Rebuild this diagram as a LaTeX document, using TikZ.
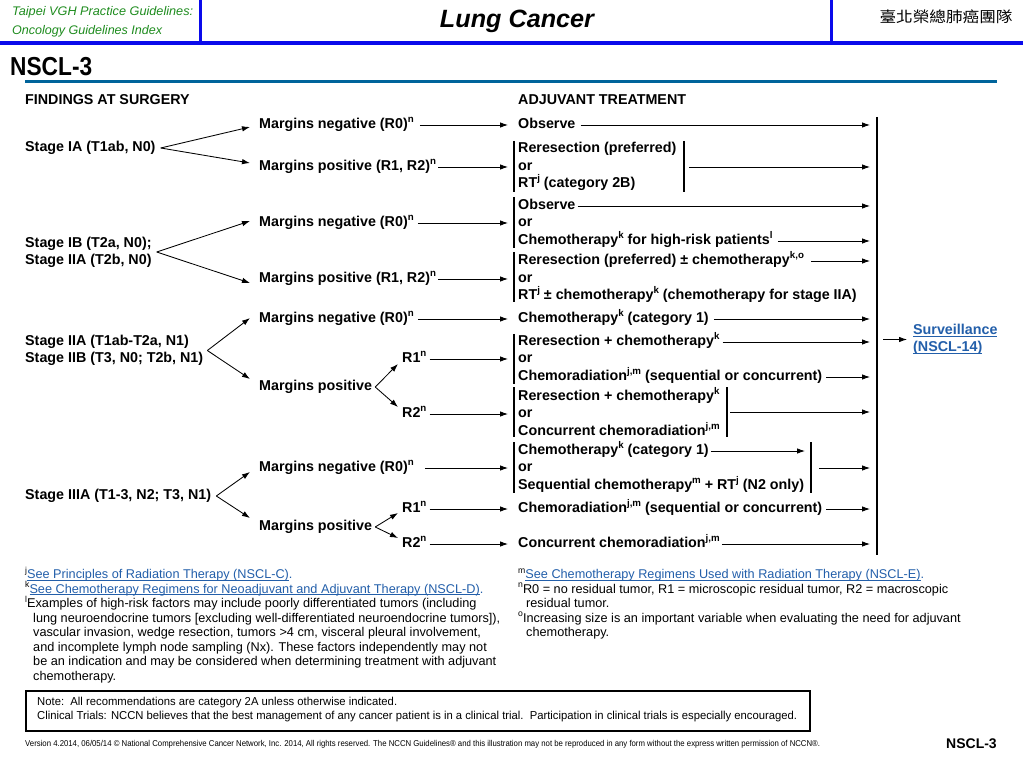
\documentclass[tikz,border=0pt]{standalone}
\usepackage{fontspec}
\usepackage{graphicx}
\setmainfont{Liberation Sans}
\newfontfamily\cjk{Noto Sans CJK TC}
\usetikzlibrary{arrows.meta}
\definecolor{hdrblue}{RGB}{10,10,235}
\definecolor{hdrgreen}{RGB}{30,140,30}
\definecolor{rulecol}{RGB}{0,100,155}
\definecolor{linkblue}{RGB}{35,95,170}
\newcommand{\fitw}[2]{\resizebox{#1}{\height}{#2}}
\newcommand{\sps}[1]{\raisebox{0.42em}{\scalebox{0.68}{#1}}}
\newcommand{\lk}[1]{\setbox0=\hbox{#1}\leavevmode\rlap{\rule[-1.7pt]{\wd0}{0.7pt}}\box0}
\tikzset{
  bt/.style={anchor=west, inner sep=0pt, font=\bfseries\fontsize{14.3}{17}\selectfont, text height=10pt, text depth=3pt},
  bt2/.style={anchor=west, inner sep=0pt, font=\bfseries\fontsize{14.3}{17}\selectfont, align=left},
  arr/.style={-{Latex[length=8pt,width=5.5pt]}, line width=0.85pt},
  bar/.style={line width=1.1pt},
  fn/.style={anchor=base west, inner sep=0pt, font=\fontsize{12.7}{15}\selectfont},
}
\begin{document}
\begin{tikzpicture}[x=1pt,y=-1pt]
\useasboundingbox (0,0) rectangle (1023,767);
\fill[white] (0,0) rectangle (1023,767);
% header
\draw[hdrblue, line width=3.5pt] (0,43) -- (1023,43);
\draw[hdrblue, line width=3pt] (200,0) -- (200,43);
\draw[hdrblue, line width=3pt] (831,0) -- (831,43);
\node[anchor=west, inner sep=0pt, font=\itshape\fontsize{12.5}{14}\selectfont, text=hdrgreen] (hg1) at (12,12) {\fitw{181pt}{Taipei VGH Practice Guidelines:}};
\node[anchor=west, inner sep=0pt, font=\itshape\fontsize{12.5}{14}\selectfont, text=hdrgreen] (hg2) at (12,31) {\fitw{150pt}{Oncology Guidelines Index}};
\node[inner sep=0pt, font=\bfseries\itshape\fontsize{25}{28}\selectfont] (title) at (517,21) {\fitw{154pt}{Lung Cancer}};
\node[inner sep=0pt, font=\cjk\fontsize{15}{17}\selectfont] (team) at (946,17) {\fitw{133pt}{臺北榮總肺癌團隊}};
\node[anchor=west, inner sep=0pt, font=\bfseries\fontsize{26}{28}\selectfont] (pg) at (10,67) {\fitw{82pt}{NSCL-3}};
\draw[rulecol, line width=3pt] (25,82) -- (997,82);
% column heads
\node[bt] (hdl) at (25,101) {FINDINGS AT SURGERY};
\node[bt] (hdr) at (518,101) {ADJUVANT TREATMENT};
% stages
\node[bt] (st1) at (25,148) {Stage IA (T1ab, N0)};
\node[bt2] (st2) at (25,252) {Stage IB (T2a, N0);\\Stage IIA (T2b, N0)};
\node[bt2] (st3) at (25,350.5) {Stage IIA (T1ab-T2a, N1)\\Stage IIB (T3, N0; T2b, N1)};
\node[bt] (st4) at (25,496) {Stage IIIA (T1-3, N2; T3, N1)};
% margins
\node[bt] (mn1) at (259,125) {Margins negative (R0)\sps{n}};
\node[bt] (mp1) at (259,167) {Margins positive (R1, R2)\sps{n}};
\node[bt] (mn2) at (259,223) {Margins negative (R0)\sps{n}};
\node[bt] (mp2) at (259,279) {Margins positive (R1, R2)\sps{n}};
\node[bt] (mn3) at (259,319) {Margins negative (R0)\sps{n}};
\node[bt] (mp3) at (259,387) {Margins positive};
\node[bt] (r1a) at (402,359) {R1\sps{n}};
\node[bt] (r2a) at (402,414) {R2\sps{n}};
\node[bt] (mn4) at (259,468) {Margins negative (R0)\sps{n}};
\node[bt] (mp4) at (259,527) {Margins positive};
\node[bt] (r1b) at (402,509) {R1\sps{n}};
\node[bt] (r2b) at (402,544) {R2\sps{n}};
% adjuvant
\node[bt] (a1) at (518,125) {Observe};
\node[bt] (a2a) at (518,149) {Reresection (preferred)};
\node[bt] (a2b) at (518,167) {or};
\node[bt] (a2c) at (518,184) {RT\sps{j} (category 2B)};
\node[bt] (a3a) at (518,206) {Observe};
\node[bt] (a3b) at (518,223) {or};
\node[bt] (a3c) at (518,241) {Chemotherapy\sps{k} for high-risk patients\sps{l}};
\node[bt] (a4a) at (518,261) {Reresection (preferred) ± chemotherapy\sps{k,o}};
\node[bt] (a4b) at (518,279) {or};
\node[bt] (a4c) at (518,296) {RT\sps{j} ± chemotherapy\sps{k} (chemotherapy for stage IIA)};
\node[bt] (a5) at (518,319) {Chemotherapy\sps{k} (category 1)};
\node[bt] (a6a) at (518,342) {Reresection + chemotherapy\sps{k}};
\node[bt] (a6b) at (518,359) {or};
\node[bt] (a6c) at (518,377) {Chemoradiation\sps{j,m} (sequential or concurrent)};
\node[bt] (a7a) at (518,397) {Reresection + chemotherapy\sps{k}};
\node[bt] (a7b) at (518,414) {or};
\node[bt] (a7c) at (518,432) {Concurrent chemoradiation\sps{j,m}};
\node[bt] (a8a) at (518,451) {Chemotherapy\sps{k} (category 1)};
\node[bt] (a8b) at (518,468) {or};
\node[bt] (a8c) at (518,486) {Sequential chemotherapy\sps{m} + RT\sps{j} (N2 only)};
\node[bt] (a9) at (518,509) {Chemoradiation\sps{j,m} (sequential or concurrent)};
\node[bt] (a10) at (518,544) {Concurrent chemoradiation\sps{j,m}};
% group bars
\draw[bar] (514,141) -- (514,192);
\draw[bar] (684,141) -- (684,192);
\draw[bar] (514,197) -- (514,248);
\draw[bar] (514,252) -- (514,302);
\draw[bar] (514,334) -- (514,384);
\draw[bar] (514,387) -- (514,437);
\draw[bar] (727,387) -- (727,437);
\draw[bar] (514,442) -- (514,493);
\draw[bar] (811,442) -- (811,493);
\coordinate (bbt) at (877,117);
\coordinate (bbb) at (877,555);
\draw[bar] (bbt) -- (bbb);
% stage -> margins
\draw[arr] ([xshift=5pt]st1.east) -- ([xshift=-9pt,yshift=-2pt]mn1.west);
\draw[arr] ([xshift=5pt]st1.east) -- ([xshift=-9pt,yshift=4pt]mp1.west);
\draw[arr] ([xshift=5pt]st2.east) -- ([xshift=-9pt,yshift=2pt]mn2.west);
\draw[arr] ([xshift=5pt]st2.east) -- ([xshift=-9pt,yshift=-4pt]mp2.west);
\draw[arr] ([xshift=4pt]st3.east) -- ([xshift=-9pt,yshift=1pt]mn3.west);
\draw[arr] ([xshift=4pt]st3.east) -- ([xshift=-9pt,yshift=8pt]mp3.west);
\draw[arr] ([xshift=5pt]st4.east) -- ([xshift=-9pt,yshift=-4pt]mn4.west);
\draw[arr] ([xshift=5pt]st4.east) -- ([xshift=-9pt,yshift=9pt]mp4.west);
\draw[arr] ([xshift=3pt]mp3.east) -- ([xshift=-4pt,yshift=-5pt]r1a.west);
\draw[arr] ([xshift=3pt]mp3.east) -- ([xshift=-4pt,yshift=7pt]r2a.west);
\draw[arr] ([xshift=3pt]mp4.east) -- ([xshift=-4pt,yshift=-4pt]r1b.west);
\draw[arr] ([xshift=3pt]mp4.east) -- ([xshift=-4pt,yshift=6pt]r2b.west);
% margins -> adjuvant
\draw[arr] ([xshift=6pt]mn1.east) -- ([xshift=-10pt]a1.west);
\draw[arr] ([xshift=2pt]mp1.east) -- ([xshift=-10pt]a2b.west);
\draw[arr] ([xshift=4pt]mn2.east) -- ([xshift=-10pt]a3b.west);
\draw[arr] ([xshift=2pt]mp2.east) -- ([xshift=-10pt]a4b.west);
\draw[arr] ([xshift=4pt]mn3.east) -- ([xshift=-10pt]a5.west);
\draw[arr] ([xshift=3pt]r1a.east) -- ([xshift=-10pt]a6b.west);
\draw[arr] ([xshift=3pt]r2a.east) -- ([xshift=-10pt]a7b.west);
\draw[arr] ([xshift=11pt]mn4.east) -- ([xshift=-10pt]a8b.west);
\draw[arr] ([xshift=3pt]r1b.east) -- ([xshift=-10pt]a9.west);
\draw[arr] ([xshift=3pt]r2b.east) -- ([xshift=-10pt]a10.west);
% adjuvant -> bar
\coordinate (tipx) at (870,0);
\coordinate (t8) at (805,0);
\coordinate (g2m) at (684,167);
\coordinate (g7m) at (727,412);
\coordinate (g8m) at (811,468);
\draw[arr] ([xshift=5pt]a1.east) -- (a1.east -| tipx);
\draw[arr] ([xshift=5pt]g2m) -- (g2m -| tipx);
\draw[arr] ([xshift=2pt]a3a.east) -- (a3a.east -| tipx);
\draw[arr] ([xshift=5pt]a3c.east) -- (a3c.east -| tipx);
\draw[arr] ([xshift=7pt]a4a.east) -- (a4a.east -| tipx);
\draw[arr] ([xshift=5pt]a5.east) -- (a5.east -| tipx);
\draw[arr] ([xshift=3pt]a6a.east) -- (a6a.east -| tipx);
\draw[arr] ([xshift=4pt]a6c.east) -- (a6c.east -| tipx);
\draw[arr] ([xshift=3pt]g7m) -- (g7m -| tipx);
\draw[arr] ([xshift=2pt]a8a.east) -- (a8a.east -| t8);
\draw[arr] ([xshift=8pt]g8m) -- (g8m -| tipx);
\draw[arr] ([xshift=4pt]a9.east) -- (a9.east -| tipx);
\draw[arr] ([xshift=2pt]a10.east) -- (a10.east -| tipx);
% surveillance
\node[bt2, text=linkblue] (surv) at (913,339.5) {\lk{Surveillance}\\\lk{(NSCL-14)}};
\coordinate (bbm) at (883,339.5);
\draw[arr] (bbm) -- ([xshift=-6pt]surv.west);
% footnotes
\node[fn] (f1) at (25,578.5) {\sps{j}{\color{linkblue}\lk{See Principles of Radiation Therapy (NSCL-C)}.}};
\node[fn] (f2) at (25,593) {\sps{k}{\color{linkblue}\lk{See Chemotherapy Regimens for Neoadjuvant and Adjuvant Therapy (NSCL-D)}.}};
\node[fn] (f3) at (25,607.5) {\sps{l}Examples of high-risk factors may include poorly differentiated tumors (including};
\node[fn] (f4) at (33,622) {lung neuroendocrine tumors [excluding well-differentiated neuroendocrine tumors]),};
\node[fn] (f5) at (33,636.5) {vascular invasion, wedge resection, tumors >4 cm, visceral pleural involvement,};
\node[fn] (f6) at (33,651) {and incomplete lymph node sampling (Nx). These factors independently may not};
\node[fn] (f7) at (33,665.5) {be an indication and may be considered when determining treatment with adjuvant};
\node[fn] (f8) at (33,680) {chemotherapy.};
\node[fn] (f9) at (518,578.5) {\sps{m}{\color{linkblue}\lk{See Chemotherapy Regimens Used with Radiation Therapy (NSCL-E)}.}};
\node[fn] (f10) at (518,593) {\sps{n}R0 = no residual tumor, R1 = microscopic residual tumor, R2 = macroscopic};
\node[fn] (f11) at (526,607.5) {residual tumor.};
\node[fn] (f12) at (518,622) {\sps{o}Increasing size is an important variable when evaluating the need for adjuvant};
\node[fn] (f13) at (526,636.5) {chemotherapy.};
% note box
\node[draw, line width=1.5pt, anchor=north west, minimum width=784pt, minimum height=40pt, inner sep=0pt] (nb) at (25,690) {};
\node[anchor=west, inner sep=0pt, font=\fontsize{11.5}{13}\selectfont] (n1) at (37,703) {\fitw{360pt}{Note:\ \ All recommendations are category 2A unless otherwise indicated.}};
\node[anchor=west, inner sep=0pt, font=\fontsize{11.5}{13}\selectfont] (n2) at (37,717) {\fitw{760pt}{Clinical Trials: NCCN believes that the best management of any cancer patient is in a clinical trial.\ \ Participation in clinical trials is especially encouraged.}};
% footer
\node[anchor=west, inner sep=0pt, font=\fontsize{8.5}{10}\selectfont] (ft) at (25,744) {\fitw{795pt}{Version 4.2014, 06/05/14 © National Comprehensive Cancer Network, Inc. 2014, All rights reserved. The NCCN Guidelines® and this illustration may not be reproduced in any form without the express written permission of NCCN®.}};
\node[anchor=west, inner sep=0pt, font=\bfseries\fontsize{14}{16}\selectfont] (ftp) at (946,744) {NSCL-3};
\end{tikzpicture}
\end{document}
